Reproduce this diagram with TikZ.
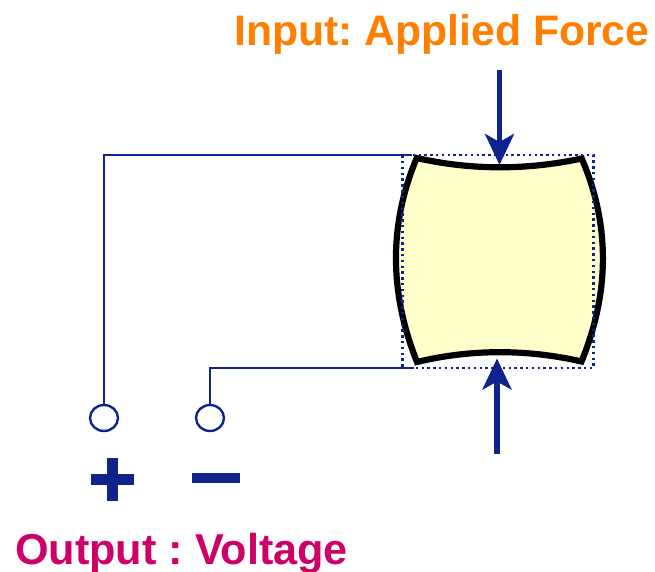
\documentclass[tikz,border=0pt]{standalone}
\usepackage{fontspec}
\setmainfont{Liberation Sans}
\usetikzlibrary{arrows.meta,shapes.geometric}
\definecolor{wireblue}{RGB}{14,35,140}
\definecolor{inputorange}{RGB}{255,128,0}
\definecolor{outputpink}{RGB}{204,0,102}
\definecolor{paleyellow}{RGB}{255,255,204}
\tikzset{
  wire/.style={draw=wireblue,line width=2.4pt},
  terminal/.style={ellipse,draw=wireblue,line width=2.4pt,fill=white,minimum width=28pt,minimum height=26pt,inner sep=0pt},
  force/.style={draw=wireblue,line width=5.4pt,-{Stealth[length=31pt,width=29pt,inset=8pt]}},
  bigtext/.style={font=\fontsize{42.7}{50}\selectfont\bfseries,inner sep=0pt,anchor=base west},
  symbolbar/.style={fill=wireblue,draw=none,inner sep=0pt,rectangle}
}
\frenchspacing
\begin{document}
\begin{tikzpicture}[x=1pt,y=-1pt]
\useasboundingbox (0,0) rectangle (655,572);
% crystal
\path[fill=paleyellow,draw=black,line width=6.2pt,line join=miter]
  (416.7,158) .. controls (471,170.3) and (527,170.3) .. (581.7,158.5)
  .. controls (610,224) and (610,292) .. (581.5,361.5)
  .. controls (527,349) and (471,349) .. (417,362)
  .. controls (389,292) and (389,224) .. cycle;
% electrode outline
\draw[wireblue,line width=2.4pt,dash pattern=on 2.4pt off 3.4pt] (402.3,155.3) rectangle (593.3,368);
% terminals and wires
\node[terminal] (plus) at (104,418) {};
\node[terminal] (minus) at (210,418) {};
\coordinate (topwire) at (412,155.3);
\coordinate (botwire) at (414,368);
\draw[wire] (plus.north) |- (topwire);
\draw[wire] (minus.north) |- (botwire);
% force arrows
\coordinate (ftopstart) at (499.5,70);
\coordinate (ftopend) at (499.5,165);
\coordinate (fbotstart) at (497,454);
\coordinate (fbotend) at (497,358.5);
\draw[force] (ftopstart) -- (ftopend);
\draw[force] (fbotstart) -- (fbotend);
% plus and minus signs
\node[symbolbar,minimum width=43pt,minimum height=11pt] (plusH) at (112.5,479.5) {};
\node[symbolbar,minimum width=11pt,minimum height=43pt] (plusV) at (112.5,479.5) {};
\node[symbolbar,minimum width=48pt,minimum height=10pt] (minusbar) at (216,478) {};
% labels
\node[bigtext,text=inputorange] (inlabel) at (234,45.5) {Input: Applied Force};
\node[bigtext,text=outputpink,font=\fontsize{43.2}{50}\selectfont\bfseries] (outlabel) at (15,564) {Output : Voltage};
\end{tikzpicture}
\end{document}
